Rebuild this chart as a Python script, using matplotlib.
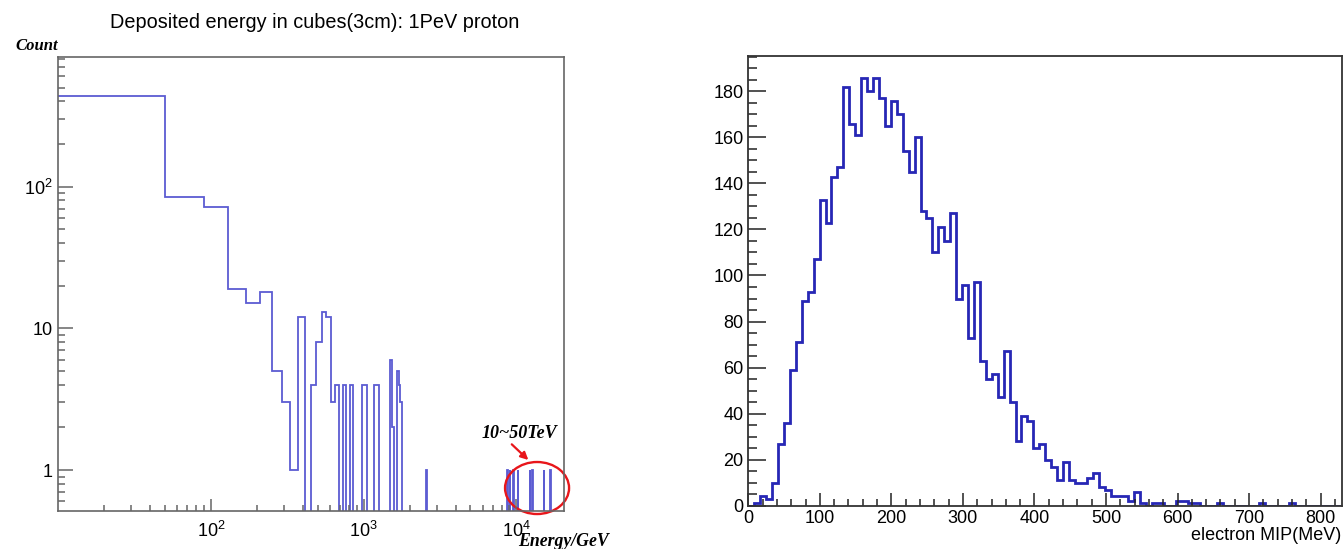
import matplotlib
matplotlib.use('Agg')

import numpy as np
import matplotlib.pyplot as plt
from matplotlib.patches import Ellipse
from matplotlib.ticker import FixedLocator, MultipleLocator, NullFormatter

plt.rcParams['font.family'] = ['Liberation Sans', 'DejaVu Sans']
plt.rcParams['mathtext.fontset'] = 'custom'
plt.rcParams['mathtext.rm'] = 'Liberation Sans'
plt.rcParams['mathtext.it'] = 'Liberation Sans:italic'
plt.rcParams['mathtext.bf'] = 'Liberation Sans:bold'

# --- left: deposited energy per cube, 40 GeV bins starting at 10 GeV (only non-empty bins)
dep_bin_width = 40
dep_bin_start = 10
dep_bin_stop = 20010
dep_bin_lo = [10, 50, 90, 130, 170, 210, 250, 290, 330, 370,
              450, 490, 530, 570, 610, 650, 730, 810, 970, 1010,
              1170, 1210, 1490, 1530, 1650, 1690, 1730, 2570,
              8730, 9050, 9530, 10170, 12250, 12730, 15090, 16690]
dep_counts = [440, 85, 72, 19, 15, 18, 5, 3, 1, 12,
              4, 8, 13, 12, 3, 4, 4, 4, 4, 4,
              4, 4, 6, 2, 5, 4, 3, 1,
              1, 1, 1, 1, 1, 1, 1, 1]

# --- right: electron MIP, 100 bins from 0 to 830 MeV
mip_range = (0, 830)
mip_counts = [0, 1, 4, 3, 10, 27, 36, 59, 71, 89,
              93, 107, 133, 123, 143, 147, 182, 166, 161, 186,
              180, 186, 177, 165, 176, 170, 154, 145, 160, 128,
              125, 110, 121, 115, 127, 90, 96, 73, 97, 63,
              55, 57, 47, 67, 45, 28, 39, 37, 25, 27,
              20, 17, 11, 19, 11, 10, 10, 12, 14, 8,
              7, 4, 4, 4, 2, 6, 1, 0, 1, 1,
              0, 0, 2, 2, 1, 1, 0, 0, 0, 1,
              0, 0, 0, 0, 0, 0, 1, 0, 0, 0,
              0, 1, 0, 0, 0, 0, 0, 0, 0, 0]

fig = plt.figure(figsize=(13.43, 5.49), dpi=100)

# ---------------- left panel
ax1 = fig.add_axes([0.0434, 0.0692, 0.3766, 0.8275])
dep_edges = np.arange(dep_bin_start, dep_bin_stop + dep_bin_width, dep_bin_width)
dep_full = np.full(len(dep_edges) - 1, 1e-3)  # empty bins drop below the axis
for lo, c in zip(dep_bin_lo, dep_counts):
    dep_full[(lo - dep_bin_start) // dep_bin_width] = c
ax1.stairs(dep_full, dep_edges, baseline=None, color='#5c5cd2', lw=1.3)
ax1.set_xscale('log')
ax1.set_yscale('log')
ax1.set_xlim(10, 2.05e4)
ax1.set_ylim(0.514, 827)

ax1.xaxis.set_major_locator(FixedLocator([100, 1000, 10000]))
ax1.set_xticklabels([r'$\mathregular{10^2}$', r'$\mathregular{10^3}$', r'$\mathregular{10^4}$'])
xminor = [m * d for d in (10, 100, 1000) for m in range(2, 10)]
ax1.xaxis.set_minor_locator(FixedLocator(xminor))
ax1.xaxis.set_minor_formatter(NullFormatter())
ax1.yaxis.set_major_locator(FixedLocator([1, 10, 100]))
ax1.set_yticklabels(['1', '10', r'$\mathregular{10^2}$'])
yminor = [0.6, 0.7, 0.8, 0.9] + [m * d for d in (1, 10, 100) for m in range(2, 10)]
ax1.yaxis.set_minor_locator(FixedLocator(yminor))
ax1.yaxis.set_minor_formatter(NullFormatter())

ax1.tick_params(axis='both', which='both', direction='in', colors='#666666',
                labelcolor='black', labelsize=13, width=1.1)
ax1.tick_params(axis='x', which='major', length=8.5, pad=7)
ax1.tick_params(axis='x', which='minor', length=4.3)
ax1.tick_params(axis='y', which='major', length=11, pad=4)
ax1.tick_params(axis='y', which='minor', length=5)
for s in ax1.spines.values():
    s.set_color('#666666')
    s.set_linewidth(1.2)

fig.text(315 / 1343, 1 - 28 / 549, 'Deposited energy in cubes(3cm): 1PeV proton',
         ha='center', va='baseline', fontsize=14.3)
fig.text(15 / 1343, 1 - 46 / 549, 'Count', family='Liberation Serif',
         weight='bold', style='italic', fontsize=12, va='center')
fig.text(518 / 1343, 1 - 541 / 549, 'Energy/GeV', family='Liberation Serif',
         weight='bold', style='italic', fontsize=12.8, va='center')

# annotation around the 10~50 TeV deposits
ax1.add_patch(Ellipse((0.9466, 0.0506), 0.1266, 0.1145, transform=ax1.transAxes,
                      fill=False, edgecolor='#e8161b', lw=1.7, clip_on=False))
ax1.text(0.911, 0.1717, '10~50TeV', transform=ax1.transAxes, ha='center', va='center',
         family='Liberation Serif', weight='bold', style='italic', fontsize=13)
ax1.annotate('', xy=(0.9294, 0.1123), xytext=(0.8966, 0.1468),
             xycoords='axes fraction', textcoords='axes fraction',
             arrowprops=dict(arrowstyle='-|>', color='#e8161b', lw=1.6,
                             mutation_scale=11, shrinkA=0, shrinkB=0))

# ---------------- right panel
ax2 = fig.add_axes([0.5572, 0.0789, 0.4421, 0.8197])
mip_edges = np.linspace(mip_range[0], mip_range[1], len(mip_counts) + 1)
ax2.stairs(mip_counts, mip_edges, color='#2727b5', lw=2)
ax2.set_xlim(*mip_range)
ax2.set_ylim(0, 195.5)
ax2.xaxis.set_major_locator(MultipleLocator(100))
ax2.xaxis.set_minor_locator(MultipleLocator(20))
ax2.yaxis.set_major_locator(MultipleLocator(20))
ax2.yaxis.set_minor_locator(MultipleLocator(5))
ax2.tick_params(axis='both', which='both', direction='in', colors='#222222',
                labelcolor='black', labelsize=13, width=1.1)
ax2.tick_params(axis='x', which='major', length=9.4, pad=3)
ax2.tick_params(axis='x', which='minor', length=5)
ax2.tick_params(axis='y', which='major', length=12.7, pad=3.5)
ax2.tick_params(axis='y', which='minor', length=6.5)
for s in ax2.spines.values():
    s.set_color('#333333')
    s.set_linewidth(1.3)

fig.text(1341 / 1343, 1 - 535 / 549, 'electron MIP(MeV)', ha='right', va='center', fontsize=13)

fig.savefig('out.png', dpi=100)
